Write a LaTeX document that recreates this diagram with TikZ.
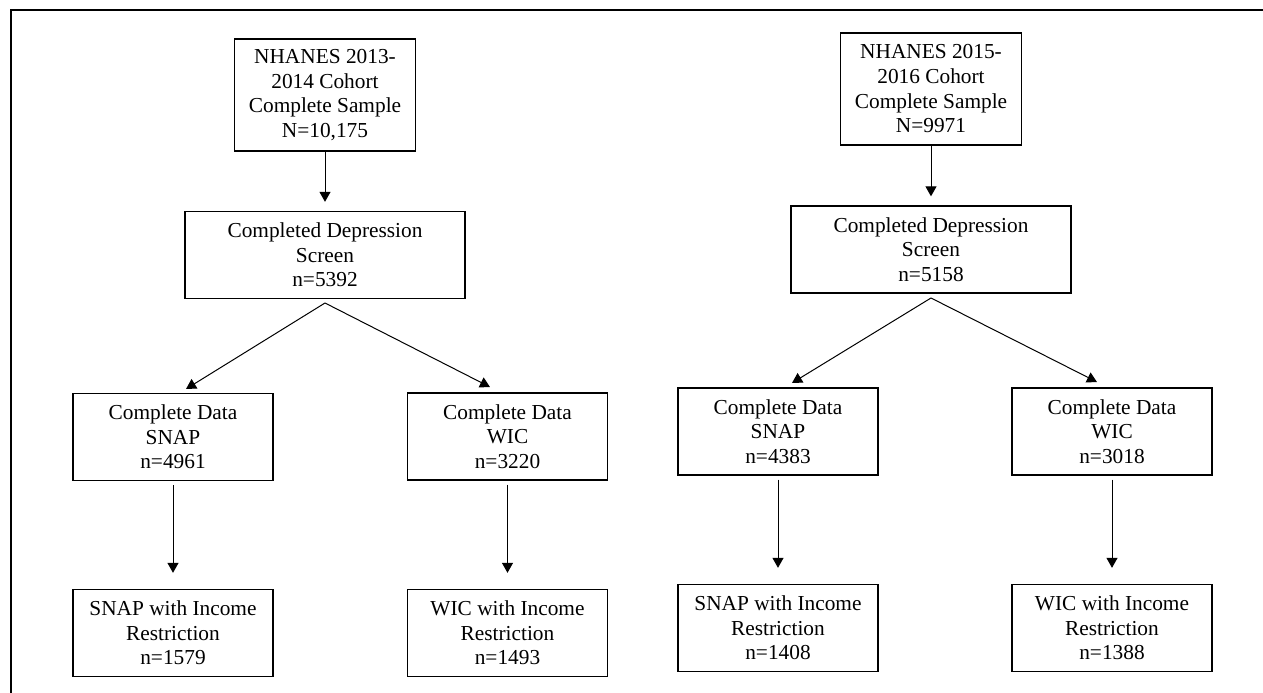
\documentclass[tikz,border=0pt]{standalone}
\usepackage{fontspec}
\setmainfont{Liberation Serif}
\usetikzlibrary{arrows.meta, positioning}
\tikzset{
	%Define standard arrow tip
	>={Triangle[width=6.6pt,length=6pt]},
	% Define box styles
	box/.style={
		rectangle,
		draw,
		line width=0.8pt,
		align=center,
		inner sep=0,
		font=\fontsize{12.8pt}{14.8pt}\selectfont
	},
	cohort/.style={box, minimum width=108.6pt, minimum height=67.2pt},
	screen/.style={box, minimum width=168pt, minimum height=52.2pt},
	prog/.style={box, minimum width=120pt, minimum height=52.2pt},
	% Define arrow style
	arw/.style={
		->,
		line width=0.6pt
	}
}

\begin{document}
\begin{tikzpicture}[x=0.6pt, y=-0.6pt]
\useasboundingbox (0,0) rectangle (1263,693);
% frame
\draw[line width=0.8pt] (11,693) -- (11,10) -- (1263,10);

% 2013-2014 cohort
\node[cohort] at (325,95) (A1) {NHANES 2013-\\2014 Cohort\\Complete Sample\\N=10,175};
\node[screen] at (325,255) (B1) {Completed Depression\\Screen\\n=5392};
\node[prog] at (173,437) (C1) {Complete Data\\SNAP\\n=4961};
\node[prog] at (507.5,436.5) (C2) {Complete Data\\WIC\\n=3220};
\node[prog] at (173,633) (D1) {SNAP with Income\\Restriction\\n=1579};
\node[prog] at (507.5,633) (D2) {WIC with Income\\Restriction\\n=1493};

% 2015-2016 cohort
\node[cohort] at (931,89) (A2) {NHANES 2015-\\2016 Cohort\\Complete Sample\\N=9971};
\node[screen] at (931,249.5) (B2) {Completed Depression\\Screen\\n=5158};
\node[prog] at (778,431.5) (C3) {Complete Data\\SNAP\\n=4383};
\node[prog] at (1112,431.5) (C4) {Complete Data\\WIC\\n=3018};
\node[prog] at (778,628) (D3) {SNAP with Income\\Restriction\\n=1408};
\node[prog] at (1112,628) (D4) {WIC with Income\\Restriction\\n=1388};

% split points and arrow ends
\coordinate (S1) at (325,303);
\coordinate (S2) at (931,298);
\coordinate (t1) at (186,389);
\coordinate (t2) at (490,387);
\coordinate (t3) at (792,383);
\coordinate (t4) at (1097,382);

% sample to screen
\path[arw, shorten >=5.4pt] (A1.south) edge (B1.north);
\path[arw, shorten >=5.4pt] (A2.south) edge (B2.north);

% screen to programme
\path[arw] (S1) edge (t1) edge (t2);
\path[arw] (S2) edge (t3) edge (t4);

% income restriction
\path[arw, shorten <=2.4pt, shorten >=9.6pt] (C1.south) edge (D1.north);
\path[arw, shorten <=2.4pt, shorten >=9.6pt] (C2.south) edge (D2.north);
\path[arw, shorten <=2.4pt, shorten >=9.6pt] (C3.south) edge (D3.north);
\path[arw, shorten <=2.4pt, shorten >=9.6pt] (C4.south) edge (D4.north);

\end{tikzpicture}
\end{document}
